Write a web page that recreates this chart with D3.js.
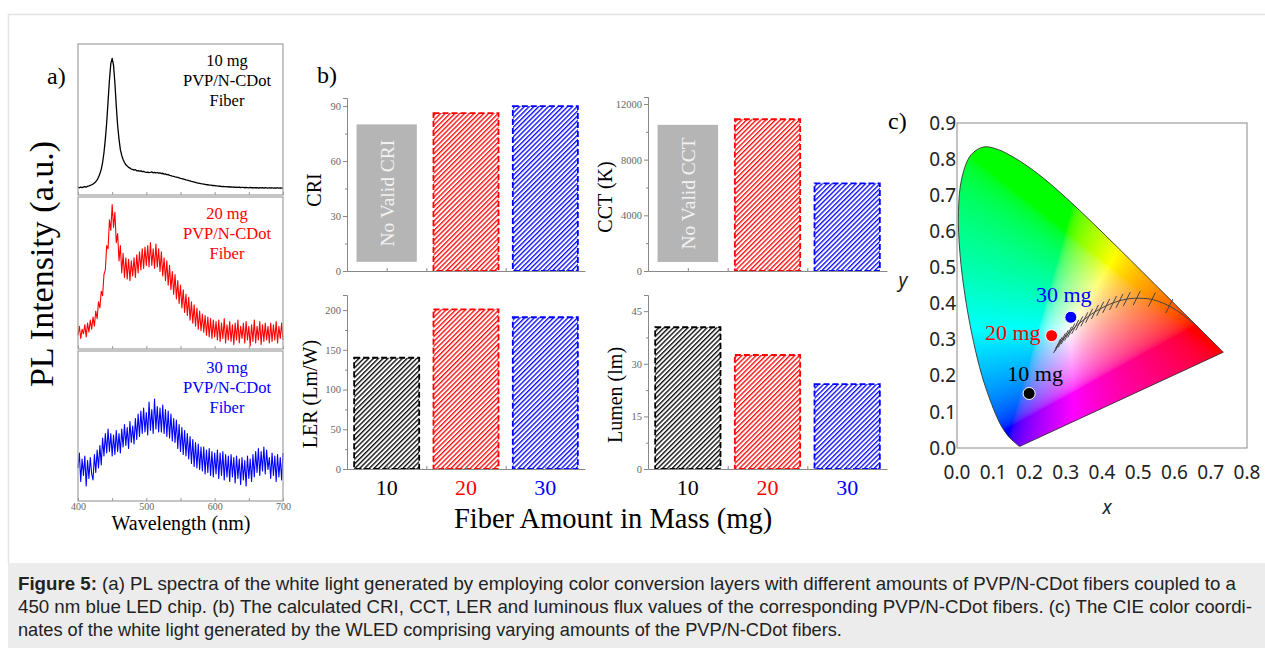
<!DOCTYPE html>
<html>
<head>
<meta charset="utf-8">
<script src="https://cdn.jsdelivr.net/npm/d3@7"></script>
<style>
  body { margin: 0; background: #fff; }
  svg text { font-family: "Liberation Serif", "Times New Roman", serif; }
</style>
</head>
<body>
<div id="graphic"></div>
<script>
// ---- data ----

// PL spectra, sampled every 2 nm from 400 to 700 nm (normalised to each box height)
var wavelengths = d3.range(400, 701, 2);

var pl10mg = [
  0.050,0.048,0.052,0.049,0.053,0.055,0.052,0.058,0.060,0.063,0.068,
  0.072,0.080,0.088,0.100,0.118,0.140,0.170,0.215,0.280,0.370,
  0.480,0.620,0.760,0.870,0.905,0.860,0.740,0.590,0.460,0.370,
  0.300,0.262,0.235,0.215,0.200,0.192,0.183,0.178,0.172,0.170,
  0.165,0.168,0.160,0.162,0.158,0.160,0.155,0.157,0.152,0.150,
  0.152,0.148,0.150,0.153,0.147,0.150,0.146,0.149,0.145,0.147,
  0.142,0.144,0.138,0.140,0.134,0.136,0.130,0.128,0.125,0.124,
  0.120,0.118,0.116,0.114,0.110,0.108,0.106,0.103,0.100,0.098,
  0.095,0.093,0.090,0.088,0.086,0.083,0.081,0.079,0.077,0.075,
  0.074,0.072,0.070,0.068,0.069,0.066,0.065,0.063,0.064,0.062,
  0.060,0.061,0.058,0.059,0.056,0.057,0.055,0.056,0.054,0.055,
  0.053,0.054,0.052,0.053,0.051,0.052,0.050,0.052,0.049,0.051,
  0.050,0.048,0.050,0.049,0.047,0.050,0.048,0.049,0.047,0.048,
  0.049,0.046,0.048,0.047,0.049,0.046,0.048,0.047,0.045,0.048,
  0.046,0.048,0.045,0.047,0.046,0.048,0.045,0.047,0.046,0.047
];

var pl20mg = [
  0.09,0.15,0.07,0.13,0.10,0.16,0.08,0.17,0.11,0.19,0.13,
  0.21,0.15,0.25,0.20,0.31,0.27,0.38,0.35,0.49,0.52,
  0.68,0.66,0.85,0.78,0.95,0.80,0.90,0.70,0.76,0.58,
  0.68,0.50,0.63,0.47,0.60,0.46,0.59,0.45,0.58,0.48,
  0.60,0.47,0.62,0.50,0.64,0.52,0.66,0.53,0.67,0.55,
  0.68,0.54,0.70,0.55,0.66,0.53,0.69,0.54,0.66,0.51,
  0.64,0.48,0.60,0.45,0.58,0.42,0.55,0.39,0.51,0.36,
  0.49,0.33,0.45,0.30,0.42,0.27,0.39,0.24,0.36,0.22,
  0.34,0.19,0.31,0.17,0.29,0.15,0.27,0.13,0.25,0.12,
  0.23,0.11,0.22,0.09,0.21,0.08,0.20,0.07,0.19,0.08,
  0.18,0.06,0.19,0.05,0.17,0.07,0.20,0.04,0.16,0.06,
  0.18,0.05,0.16,0.03,0.17,0.06,0.19,0.04,0.15,0.07,
  0.17,0.04,0.18,0.06,0.15,0.02,0.16,0.05,0.19,0.04,
  0.15,0.06,0.18,0.03,0.16,0.05,0.17,0.06,0.15,0.04,
  0.17,0.05,0.16,0.06,0.18,0.04,0.15,0.07,0.17,0.06
];

var pl30mg = [
  0.22,0.32,0.13,0.28,0.17,0.30,0.10,0.27,0.15,0.29,0.18,
  0.14,0.31,0.19,0.34,0.22,0.37,0.24,0.42,0.30,0.45,
  0.32,0.48,0.33,0.45,0.30,0.44,0.31,0.47,0.33,0.45,
  0.32,0.48,0.36,0.51,0.37,0.49,0.35,0.53,0.39,0.50,
  0.38,0.55,0.41,0.58,0.43,0.60,0.45,0.62,0.46,0.59,
  0.44,0.66,0.47,0.61,0.45,0.68,0.48,0.63,0.46,0.62,
  0.46,0.64,0.45,0.61,0.43,0.60,0.42,0.58,0.40,0.55,
  0.39,0.54,0.35,0.51,0.33,0.49,0.31,0.47,0.30,0.45,
  0.28,0.43,0.25,0.41,0.23,0.39,0.22,0.38,0.21,0.36,
  0.20,0.36,0.18,0.34,0.19,0.35,0.17,0.33,0.16,0.32,
  0.18,0.34,0.15,0.32,0.17,0.33,0.14,0.31,0.16,0.30,
  0.13,0.31,0.16,0.29,0.12,0.30,0.15,0.28,0.11,0.29,
  0.14,0.27,0.10,0.30,0.15,0.28,0.13,0.31,0.16,0.33,
  0.19,0.35,0.17,0.33,0.20,0.36,0.18,0.34,0.21,0.29,
  0.15,0.32,0.17,0.30,0.13,0.31,0.16,0.29,0.14,0.32
];

// fibre amounts and the values in panel b
var fiberMass = ["10", "20", "30"];
var massColours = ["#000000", "#ff0000", "#0000ff"];
var criValues = [null, 86.2, 90.0];
var cctValues = [null, 10900, 6300];
var lerValues = [140, 201, 191];
var lumenValues = [40.4, 32.5, 24.2];

// CIE 1931 colour coordinates of the three WLEDs (same order as fiberMass)
var cieCoords = [[0.199, 0.151], [0.261, 0.311], [0.314, 0.362]];

// spectral locus, 380 -> 700 nm
var spectralLocus = [
  [0.1741,0.0050],[0.1738,0.0049],[0.1733,0.0048],[0.1726,0.0048],[0.1714,0.0051],
  [0.1689,0.0069],[0.1644,0.0109],[0.1566,0.0177],[0.1440,0.0297],[0.1241,0.0578],
  [0.1096,0.0868],[0.0913,0.1327],[0.0687,0.2007],[0.0454,0.2950],[0.0235,0.4127],
  [0.0082,0.5384],[0.0039,0.6548],[0.0139,0.7502],[0.0389,0.8120],[0.0743,0.8338],
  [0.1142,0.8262],[0.1547,0.8059],[0.1929,0.7816],[0.2296,0.7543],[0.2658,0.7243],
  [0.3016,0.6923],[0.3373,0.6589],[0.3731,0.6245],[0.4087,0.5896],[0.4441,0.5547],
  [0.4788,0.5202],[0.5125,0.4866],[0.5448,0.4544],[0.5752,0.4242],[0.6029,0.3965],
  [0.6270,0.3725],[0.6658,0.3340],[0.6915,0.3083],[0.7079,0.2920],[0.7190,0.2809],
  [0.7260,0.2740],[0.7300,0.2700],[0.7334,0.2666],[0.7347,0.2653]
];

// Planckian locus 1000 K -> 12000 K and the isotherm marks along it
var planckLocus = [
  [0.6528,0.3444],[0.6250,0.3674],[0.5857,0.3931],[0.5496,0.4081],[0.5267,0.4133],
  [0.4770,0.4137],[0.4369,0.4041],[0.4053,0.3907],[0.3805,0.3768],[0.3451,0.3516],
  [0.3221,0.3318],[0.3064,0.3166],[0.2952,0.3048],[0.2807,0.2883],[0.2722,0.2773]
];
var isotherms = [
  [0.5857,0.3931],[0.5377,0.4111],[0.4958,0.4150],[0.4684,0.4123],[0.4483,0.4074],
  [0.4305,0.4016],[0.4116,0.3936],[0.3950,0.3855],[0.3805,0.3768],[0.3644,0.3661],
  [0.3512,0.3563],[0.3373,0.3451],[0.3260,0.3354],[0.3151,0.3253],[0.3064,0.3166],
  [0.2972,0.3069],[0.2891,0.2981],[0.2807,0.2883],[0.2760,0.2825]
];

var captionLines = [
  ["Figure 5:", " (a) PL spectra of the white light generated by employing color conversion layers with different amounts of PVP/N-CDot fibers coupled to a"],
  ["", "450 nm blue LED chip. (b) The calculated CRI, CCT, LER and luminous flux values of the corresponding PVP/N-CDot fibers. (c) The CIE color coordi-"],
  ["", "nates of the white light generated by the WLED comprising varying amounts of the PVP/N-CDot fibers."]
];

var graphic = d3.select('#graphic');

function drawGraphic() {

  graphic.selectAll("*").remove();

  var svg = graphic.append('svg')
    .attr('width', 1265)
    .attr('height', 648);

  var defs = svg.append('defs');

  // page frame + caption box
  svg.append('path')
    .attr('d', 'M8.5,563 V14.5 H1265')
    .attr('fill', 'none')
    .attr('stroke', '#e3e3e3')
    .attr('stroke-width', 1.5);

  svg.append('rect')
    .attr('x', 8).attr('y', 563)
    .attr('width', 1257).attr('height', 85)
    .attr('fill', '#ececec');

  drawSpectra(svg);
  drawBars(svg, defs);
  drawCie(svg, defs);
  drawCaption(svg);
}

// ---------------- panel a ----------------
function drawSpectra(svg) {
  var x = d3.scaleLinear().domain([400, 700]).range([78, 283]);
  var boxes = [[44, 195], [197, 349], [351, 501]];
  var series = [pl10mg, pl20mg, pl30mg];

  series.forEach(function(values, i) {
    var box = boxes[i];
    var y = d3.scaleLinear().domain([0, 1]).range([box[1], box[0]]);
    var g = svg.append('g');

    var axis = d3.axisBottom(x)
      .tickValues(d3.range(400, 701, 50))
      .tickSize(-3)
      .tickPadding(2)
      .tickFormat(function(d) { return (i == 2 && d % 100 == 0) ? d : ""; });

    g.append('g')
      .attr('transform', 'translate(0,' + box[1] + ')')
      .call(axis)
      .call(function(a) {
        a.select('.domain').remove();
        a.selectAll('line').attr('stroke', '#999');
        a.selectAll('text')
          .attr('fill', '#666')
          .style('font-size', '10px')
          .style('font-family', '"Liberation Serif", serif');
      });

    g.append('path')
      .datum(values)
      .attr('fill', 'none')
      .attr('stroke', massColours[i])
      .attr('stroke-width', i == 0 ? 1.3 : 1.1)
      .attr('stroke-linejoin', 'round')
      .attr('d', d3.line()
        .x(function(d, j) { return x(wavelengths[j]); })
        .y(function(d) { return y(d); }));

    g.append('rect')
      .attr('x', x(400)).attr('y', box[0])
      .attr('width', x(700) - x(400))
      .attr('height', box[1] - box[0])
      .attr('fill', 'none')
      .attr('stroke', '#a0a0a0')
      .attr('stroke-width', 1.2);

    var label = g.append('text')
      .attr('text-anchor', 'middle')
      .attr('fill', massColours[i])
      .style('font-size', '16.5px');
    [fiberMass[i] + ' mg', 'PVP/N-CDot', 'Fiber'].forEach(function(t, k) {
      label.append('tspan')
        .attr('x', 227)
        .attr('y', box[0] + 22 + k * 20)
        .text(t);
    });
  });

  svg.append('text')
    .attr('transform', 'translate(53,264) rotate(-90)')
    .attr('text-anchor', 'middle')
    .style('font-size', '34px')
    .text('PL Intensity (a.u.)');

  svg.append('text')
    .attr('x', 181).attr('y', 530)
    .attr('text-anchor', 'middle')
    .style('font-size', '20px')
    .text('Wavelength (nm)');

  svg.append('text')
    .attr('x', 47).attr('y', 84)
    .style('font-size', '24px')
    .text('a)');
}

// ---------------- panel b ----------------
function drawBars(svg, defs) {

  massColours.forEach(function(c, i) {
    var p = defs.append('pattern')
      .attr('id', 'hatch' + i)
      .attr('patternUnits', 'userSpaceOnUse')
      .attr('width', 3.4).attr('height', 3.4)
      .attr('patternTransform', 'rotate(45)');
    p.append('rect').attr('width', 3.4).attr('height', 3.4).attr('fill', '#fff');
    p.append('line')
      .attr('x1', 0.7).attr('y1', 0).attr('x2', 0.7).attr('y2', 3.4)
      .attr('stroke', c).attr('stroke-width', 1.3);
  });

  var barPanels = [
    { title: 'CRI', values: criValues, max: 94.4, ticks: [0, 30, 60, 90], minor: [15, 45, 75],
      left: 347, right: 585, top: 98, zero: 271, titleX: 314, titleY: 190,
      noValid: 'No Valid CRI', noValidRange: [5, 80] },
    { title: 'CCT (K)', values: cctValues, max: 12500, ticks: [0, 4000, 8000, 12000], minor: [2000, 6000, 10000],
      left: 648, right: 887, top: 97, zero: 271, titleX: 605, titleY: 197,
      noValid: 'No Valid CCT', noValidRange: [650, 10500] },
    { title: 'LER (Lm/W)', values: lerValues, max: 219, ticks: [0, 50, 100, 150, 200], minor: [25, 75, 125, 175],
      left: 347, right: 585, top: 295, zero: 469, titleX: 310, titleY: 394, categories: true },
    { title: 'Lumen (lm)', values: lumenValues, max: 49.6, ticks: [0, 15, 30, 45], minor: [7.5, 22.5, 37.5],
      left: 648, right: 887, top: 295, zero: 469, titleX: 615, titleY: 395, categories: true }
  ];

  barPanels.forEach(function(p) {
    var x = d3.scaleLinear().domain([0.5, 3.5]).range([p.left, p.right]);
    var y = d3.scaleLinear().domain([0, p.max]).range([p.zero, p.top]);
    var g = svg.append('g');

    // placeholder for the 10 mg fibre
    if (p.noValid) {
      g.append('rect')
        .attr('x', x(1 - 0.38)).attr('y', y(p.noValidRange[1]))
        .attr('width', x(1.38) - x(0.62))
        .attr('height', y(p.noValidRange[0]) - y(p.noValidRange[1]))
        .attr('fill', '#b5b5b5');
      g.append('text')
        .attr('transform', 'translate(' + (x(1) + 7) + ',' + y((p.noValidRange[0] + p.noValidRange[1]) / 2) + ') rotate(-90)')
        .attr('text-anchor', 'middle')
        .attr('fill', '#f2f2f2')
        .style('font-size', '19.5px')
        .text(p.noValid);
    }

    var bars = p.values
      .map(function(v, i) { return { v: v, i: i }; })
      .filter(function(d) { return d.v != null; });

    g.selectAll('rect.bar')
      .data(bars)
      .join('rect')
      .attr('class', 'bar')
      .attr('x', function(d) { return x(d.i + 1 - 0.41); })
      .attr('y', function(d) { return y(d.v); })
      .attr('width', x(1.41) - x(0.59))
      .attr('height', function(d) { return y(0) - y(d.v); })
      .attr('fill', function(d) { return 'url(#hatch' + d.i + ')'; })
      .attr('stroke', function(d) { return massColours[d.i]; })
      .attr('stroke-width', 1.8)
      .attr('stroke-dasharray', '6,3');

    // axes
    var styleAxis = function(a) {
      a.select('.domain').attr('stroke', '#888');
      a.selectAll('line').attr('stroke', '#888');
      a.selectAll('text')
        .attr('fill', '#666')
        .style('font-size', '10.5px')
        .style('font-family', '"Liberation Serif", serif');
    };

    g.append('g')
      .attr('transform', 'translate(' + p.left + ',0)')
      .call(d3.axisLeft(y).tickValues(p.ticks).tickSize(4).tickPadding(2).tickFormat(d3.format('d')))
      .call(styleAxis);
    g.append('g')
      .attr('transform', 'translate(' + p.left + ',0)')
      .call(d3.axisLeft(y).tickValues(p.minor).tickSize(2).tickFormat(''))
      .call(styleAxis)
      .call(function(a) { a.select('.domain').remove(); });

    g.append('g')
      .attr('transform', 'translate(0,' + p.zero + ')')
      .call(d3.axisBottom(x).tickValues([1, 1.5, 2, 2.5, 3]).tickSize(-3).tickSizeOuter(0).tickFormat(''))
      .call(styleAxis);

    g.append('text')
      .attr('transform', 'translate(' + p.titleX + ',' + p.titleY + ') rotate(-90)')
      .attr('text-anchor', 'middle')
      .attr('dy', '0.35em')
      .style('font-size', '20px')
      .text(p.title);

    if (p.categories) {
      g.selectAll('text.cat')
        .data(fiberMass)
        .join('text')
        .attr('class', 'cat')
        .attr('x', function(d, i) { return x(i + 1); })
        .attr('y', p.zero + 26)
        .attr('text-anchor', 'middle')
        .attr('fill', function(d, i) { return massColours[i]; })
        .style('font-size', '22px')
        .text(function(d) { return d; });
    }
  });

  svg.append('text')
    .attr('x', 613).attr('y', 528)
    .attr('text-anchor', 'middle')
    .style('font-size', '28.5px')
    .text('Fiber Amount in Mass (mg)');

  svg.append('text')
    .attr('x', 317).attr('y', 83)
    .style('font-size', '24px')
    .text('b)');
}

// ---------------- panel c ----------------
function chromaToRgb(cx, cy) {
  var X = cx / cy, Y = 1, Z = (1 - cx - cy) / cy;
  var rgb = [
    3.2406 * X - 1.5372 * Y - 0.4986 * Z,
    -0.9689 * X + 1.8758 * Y + 0.0415 * Z,
    0.0557 * X - 0.2040 * Y + 1.0570 * Z
  ].map(function(v) { return Math.max(v, 0); });
  var m = d3.max(rgb);
  return rgb.map(function(v) {
    v = v / m;
    v = v <= 0.0031308 ? 12.92 * v : 1.055 * Math.pow(v, 1 / 2.4) - 0.055;
    return Math.round(255 * v);
  });
}

function drawCie(svg, defs) {
  var x = d3.scaleLinear().domain([0, 0.8]).range([957, 1247]);
  var y = d3.scaleLinear().domain([0, 0.9]).range([448, 123]);
  var g = svg.append('g');

  var locusLine = d3.line()
    .x(function(d) { return x(d[0]); })
    .y(function(d) { return y(d[1]); })
    .curve(d3.curveCatmullRom);
  var locusPath = locusLine(spectralLocus) + 'Z';

  defs.append('clipPath').attr('id', 'locusClip')
    .append('path').attr('d', locusPath);

  // raster of chromaticity colours, clipped to the horseshoe
  var w = x(0.8) - x(0), h = y(0) - y(0.9);
  var canvas = document.createElement('canvas');
  canvas.width = w; canvas.height = h;
  var ctx = canvas.getContext('2d');
  var img = ctx.createImageData(w, h);
  for (var j = 0; j < h; j++) {
    for (var i = 0; i < w; i++) {
      var cx = x.invert(x(0) + i + 0.5), cy = y.invert(y(0.9) + j + 0.5);
      var k = 4 * (j * w + i);
      if (cy < 0.002) { img.data[k + 3] = 0; continue; }
      var c = chromaToRgb(cx, cy);
      img.data[k] = c[0]; img.data[k + 1] = c[1]; img.data[k + 2] = c[2]; img.data[k + 3] = 255;
    }
  }
  ctx.putImageData(img, 0, 0);

  g.append('image')
    .attr('x', x(0)).attr('y', y(0.9))
    .attr('width', w).attr('height', h)
    .attr('preserveAspectRatio', 'none')
    .attr('href', canvas.toDataURL())
    .attr('clip-path', 'url(#locusClip)');

  g.append('path')
    .attr('d', locusPath)
    .attr('fill', 'none')
    .attr('stroke', '#333')
    .attr('stroke-width', 0.9);

  // Planckian locus and isotherm marks
  g.append('path')
    .datum(planckLocus)
    .attr('d', locusLine)
    .attr('fill', 'none')
    .attr('stroke', '#444')
    .attr('stroke-width', 1);

  g.selectAll('line.iso')
    .data(isotherms)
    .join('line')
    .attr('class', 'iso')
    .attr('x1', function(d) { return x(d[0]) - 3.5; })
    .attr('y1', function(d) { return y(d[1]) + 7; })
    .attr('x2', function(d) { return x(d[0]) + 3.5; })
    .attr('y2', function(d) { return y(d[1]) - 7; })
    .attr('stroke', '#444')
    .attr('stroke-width', 1);

  g.append('rect')
    .attr('x', x(0)).attr('y', y(0.9))
    .attr('width', w).attr('height', h)
    .attr('fill', 'none')
    .attr('stroke', '#8a8a8a')
    .attr('stroke-width', 1);

  // WLED points
  g.selectAll('circle.pt')
    .data(cieCoords)
    .join('circle')
    .attr('class', 'pt')
    .attr('cx', function(d) { return x(d[0]); })
    .attr('cy', function(d) { return y(d[1]); })
    .attr('r', 6)
    .attr('fill', function(d, i) { return massColours[i]; })
    .attr('stroke', '#fff')
    .attr('stroke-width', 1);

  var labelPos = [[6, -20, 'middle'], [-11, -3, 'end'], [-7, -23, 'middle']];
  g.selectAll('text.pt')
    .data(cieCoords)
    .join('text')
    .attr('class', 'pt')
    .attr('x', function(d, i) { return x(d[0]) + labelPos[i][0]; })
    .attr('y', function(d, i) { return y(d[1]) + labelPos[i][1]; })
    .attr('dy', '0.35em')
    .attr('text-anchor', function(d, i) { return labelPos[i][2]; })
    .attr('fill', function(d, i) { return massColours[i]; })
    .style('font-size', '22px')
    .text(function(d, i) { return fiberMass[i] + ' mg'; });

  // tick labels (no tick marks in the original)
  var sans = '"Noto Sans", "DejaVu Sans", sans-serif';
  g.selectAll('text.xt')
    .data(d3.range(0, 9).map(function(d) { return d / 10; }))
    .join('text')
    .attr('class', 'xt')
    .attr('x', function(d) { return x(d); })
    .attr('y', 472)
    .attr('dy', '0.35em')
    .attr('text-anchor', 'middle')
    .attr('fill', '#222')
    .style('font-family', sans)
    .style('font-size', '19px')
    .text(d3.format('.1f'));

  g.selectAll('text.yt')
    .data(d3.range(0, 10).map(function(d) { return d / 10; }))
    .join('text')
    .attr('class', 'yt')
    .attr('x', x(0) - 1)
    .attr('y', function(d) { return y(d); })
    .attr('dy', '0.35em')
    .attr('text-anchor', 'end')
    .attr('fill', '#222')
    .style('font-family', sans)
    .style('font-size', '19px')
    .text(d3.format('.1f'));

  g.append('text')
    .attr('x', 1107).attr('y', 507)
    .attr('dy', '0.35em')
    .attr('text-anchor', 'middle')
    .attr('fill', '#222')
    .style('font-family', sans)
    .style('font-style', 'italic')
    .style('font-size', '19px')
    .text('x');

  g.append('text')
    .attr('x', 903).attr('y', 280)
    .attr('dy', '0.35em')
    .attr('text-anchor', 'middle')
    .attr('fill', '#222')
    .style('font-family', sans)
    .style('font-style', 'italic')
    .style('font-size', '19px')
    .text('y');

  g.append('text')
    .attr('x', 888).attr('y', 129)
    .style('font-size', '24px')
    .text('c)');
}

// ---------------- caption ----------------
function drawCaption(svg) {
  var widths = [1218, 1234, null];
  captionLines.forEach(function(line, i) {
    var t = svg.append('text')
      .attr('x', 18)
      .attr('y', 590 + i * 23)
      .attr('fill', '#222')
      .style('font-family', '"Liberation Sans", Arial, sans-serif')
      .style('font-size', '18.2px');
    if (line[0]) t.append('tspan').style('font-weight', 'bold').text(line[0]);
    t.append('tspan').text(line[1]);
    if (widths[i]) t.attr('textLength', widths[i]).attr('lengthAdjust', 'spacingAndGlyphs');
  });
}

drawGraphic();
</script>
</body>
</html>
